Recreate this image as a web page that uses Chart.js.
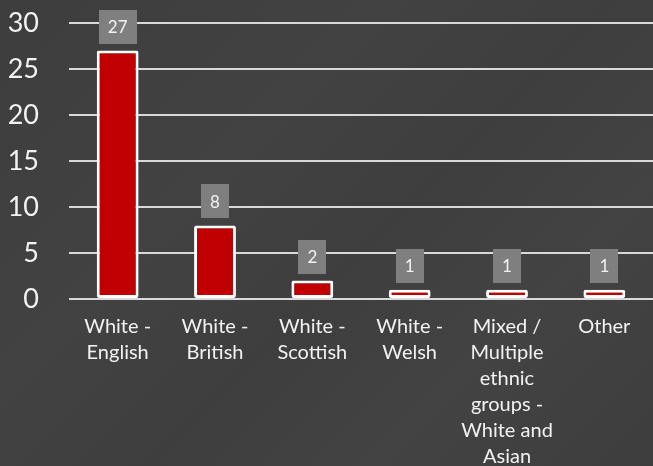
<!DOCTYPE html>
<html>
<head>
<meta charset="utf-8">
<script src="https://cdn.jsdelivr.net/npm/chart.js@4/dist/chart.umd.min.js"></script>
<style>
  html, body { margin: 0; padding: 0; background: #404040; }
  #wrap { width: 653px; height: 466px; position: relative;
    background: linear-gradient(135deg, #3d3d3d 0%, #424242 35%, #3e3e3e 55%, #434343 75%, #3d3d3d 100%); }
</style>
</head>
<body>
<div id="wrap"><canvas id="c" width="653" height="466"></canvas></div>
<script>
const categories = [
  ["White -", "English"],
  ["White -", "British"],
  ["White -", "Scottish"],
  ["White -", "Welsh"],
  ["Mixed /", "Multiple", "ethnic", "groups -", "White and", "Asian"],
  ["Other"]
];
const counts = [27, 8, 2, 1, 1, 1];
const yTicks = [0, 5, 10, 15, 20, 25, 30];

const labelBoxes = {
  id: 'labelBoxes',
  afterDatasetsDraw(chart) {
    const ctx = chart.ctx;
    const meta = chart.getDatasetMeta(0);
    ctx.save();
    ctx.font = '17px Lato';
    ctx.textAlign = 'center';
    ctx.textBaseline = 'middle';
    meta.data.forEach((bar, i) => {
      const txt = String(counts[i]);
      const w = ctx.measureText(txt).width + 18;
      const h = 34;
      const bottom = bar.y - 7;
      ctx.fillStyle = '#7f7f7f';
      ctx.fillRect(Math.round(bar.x - w / 2), Math.round(bottom - h), Math.round(w), h);
      ctx.fillStyle = '#f2f2f2';
      ctx.fillText(txt, bar.x, bottom - h / 2 + 1);
    });
    ctx.restore();
  }
};

new Chart(document.getElementById('c'), {
  type: 'bar',
  data: {
    labels: categories,
    datasets: [{
      data: counts,
      backgroundColor: '#c00000',
      borderColor: '#ffffff',
      borderWidth: 3,
      borderRadius: 2,
      borderSkipped: false,
      barPercentage: 0.43,
      categoryPercentage: 1
    }]
  },
  options: {
    responsive: false,
    animation: false,
    layout: { padding: { top: 23, right: -6, left: 0, bottom: 0 } },
    plugins: { legend: { display: false }, tooltip: { enabled: false } },
    scales: {
      x: {
        grid: { display: false, drawTicks: false },
        border: { display: false },
        ticks: {
          color: '#f2f2f2',
          font: { family: 'Lato', size: 20, lineHeight: 1.3 },
          padding: 15,
          maxRotation: 0,
          autoSkip: false
        },
        afterFit(scale) { scale.height = 167; }
      },
      y: {
        min: 0, max: 30,
        afterBuildTicks(scale) { scale.ticks = yTicks.map(v => ({ value: v })); },
        grid: { color: '#d9d9d9', lineWidth: 2, drawTicks: false },
        border: { display: false },
        ticks: {
          color: '#f2f2f2',
          font: { family: 'Lato', size: 27 },
          padding: 30
        },
        afterFit(scale) { scale.width = 69; scale.paddingTop = 0; scale.paddingBottom = 0; }
      }
    }
  },
  plugins: [labelBoxes]
});
</script>
</body>
</html>
